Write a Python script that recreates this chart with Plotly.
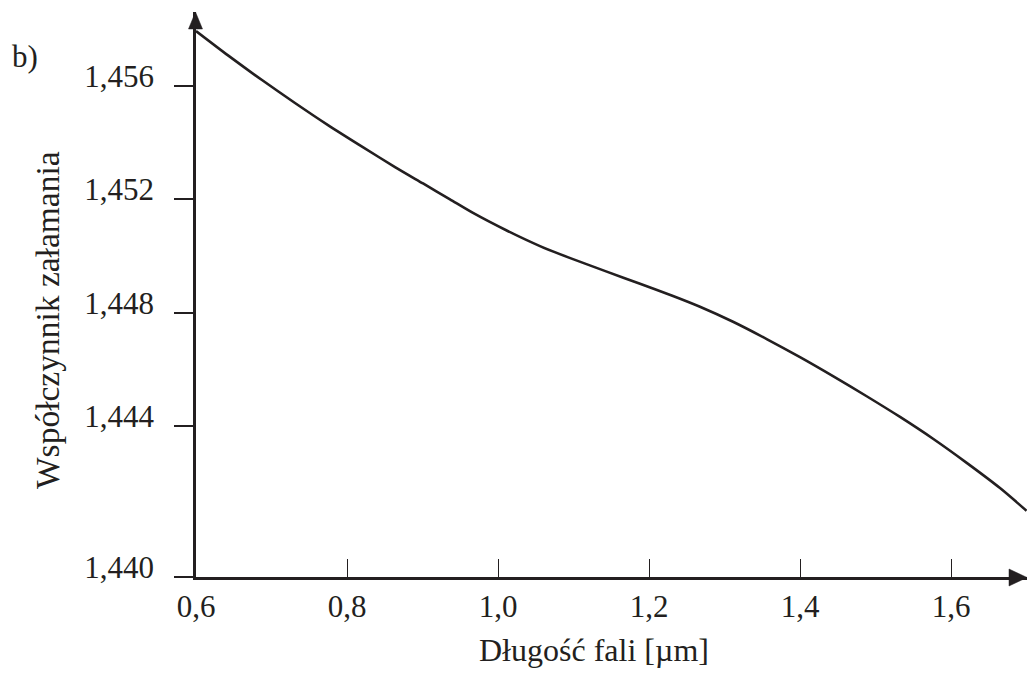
import plotly.graph_objects as go

# Refractive index of the glass versus wavelength
wavelength_um = [0.600, 0.6424, 0.6874, 0.7311, 0.7748, 0.8199, 0.8636, 0.9007,
                 0.9364, 0.9669, 1.0115, 1.0556, 1.0993, 1.1440, 1.1881, 1.2318,
                 1.2675, 1.3113, 1.3559, 1.4000, 1.4437, 1.4883, 1.5325, 1.5762,
                 1.6208, 1.6649, 1.7000]
refractive_index = [1.45794, 1.45708, 1.45621, 1.45540, 1.45462, 1.45386, 1.45314,
                    1.45256, 1.45200, 1.45152, 1.45090, 1.45035, 1.44989, 1.44945,
                    1.44902, 1.44859, 1.44821, 1.44768, 1.44707, 1.44643, 1.44576,
                    1.44505, 1.44432, 1.44355, 1.44270, 1.44181, 1.44101]

x_tick_vals = [0.6, 0.8, 1.0, 1.2, 1.4, 1.6]
x_tick_text = ["0,6", "0,8", "1,0", "1,2", "1,4", "1,6"]
y_axis_floor = 1.438671
y_tick_vals = [y_axis_floor, 1.444, 1.448, 1.452, 1.456]
y_tick_text = ["1,440", "1,444", "1,448", "1,452", "1,456"]

INK = "#231f20"
FONT = "Liberation Serif"

# plot-area geometry in page pixels
L, T, R, B = 196, 12, 1027, 577
W, H = R - L, B - T


def px(x):
    return (x - L) / W


def py(y):
    return (B - y) / H


fig = go.Figure()
fig.add_trace(go.Scatter(
    x=wavelength_um, y=refractive_index, mode="lines",
    line=dict(color=INK, width=2.6, shape="spline", smoothing=0.7),
    hoverinfo="skip", showlegend=False,
))

# arrowheads on both axes
y_arrow = f"M {px(188.5)} {py(29)} L {px(195.5)} {py(12)} L {px(202.5)} {py(29)} Z"
x_arrow = f"M {px(1009)} {py(569)} L {px(1027)} {py(577.5)} L {px(1009)} {py(586)} Z"
shapes = [
    dict(type="path", xref="paper", yref="paper", path=y_arrow,
         fillcolor=INK, line=dict(color=INK, width=0.5)),
    dict(type="path", xref="paper", yref="paper", path=x_arrow,
         fillcolor=INK, line=dict(color=INK, width=0.5)),
]

annotations = [
    dict(text="b)", x=px(25), y=py(56), xref="paper", yref="paper",
         showarrow=False, font=dict(family=FONT, size=31, color=INK),
         xanchor="center", yanchor="middle"),
    dict(text="Długość fali [µm]", x=px(594), y=py(650), xref="paper", yref="paper",
         showarrow=False, font=dict(family=FONT, size=32, color=INK),
         xanchor="center", yanchor="middle"),
    dict(text="Współczynnik załamania", x=px(47), y=py(320), xref="paper", yref="paper",
         showarrow=False, textangle=-90, font=dict(family=FONT, size=33.5, color=INK),
         xanchor="center", yanchor="middle"),
]

fig.update_layout(
    width=1027, height=677,
    margin=dict(l=L, r=1027 - R, t=T, b=677 - B),
    paper_bgcolor="white", plot_bgcolor="white",
    shapes=shapes, annotations=annotations,
    xaxis=dict(
        range=[0.6, 0.6 + W / 755.0], showgrid=False, zeroline=False,
        showline=True, linecolor=INK, linewidth=2.7,
        tickmode="array", tickvals=x_tick_vals, ticktext=x_tick_text,
        ticks="inside", ticklen=18, tickwidth=1.3, tickcolor=INK,
        tickfont=dict(family=FONT, size=31, color=INK),
        fixedrange=True,
    ),
    yaxis=dict(
        range=[y_axis_floor, y_axis_floor + H / 28333.3], showgrid=False, zeroline=False,
        showline=True, linecolor=INK, linewidth=2.7,
        tickmode="array", tickvals=y_tick_vals, ticktext=y_tick_text,
        ticks="outside", ticklen=19, tickwidth=1.5, tickcolor=INK,
        tickfont=dict(family=FONT, size=31, color=INK),
        ticklabelshift=-10, ticklabelstandoff=14,
        fixedrange=True,
    ),
)

fig.write_html("out.html")
